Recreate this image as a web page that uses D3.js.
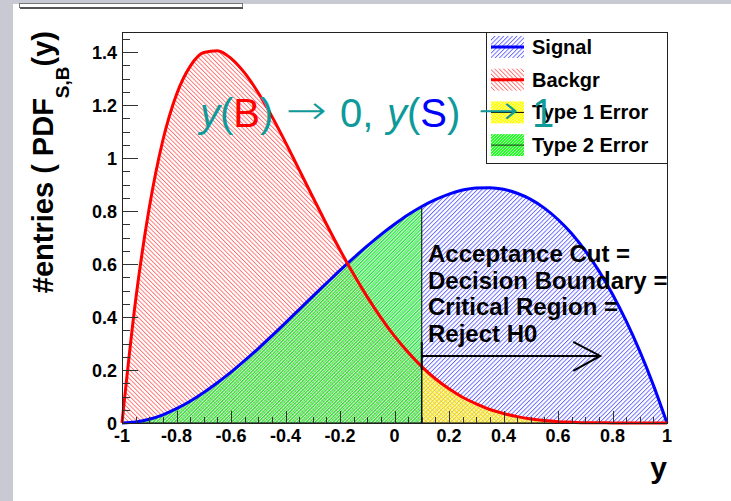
<!DOCTYPE html>
<html>
<head>
<meta charset="utf-8">
<script src="https://cdn.jsdelivr.net/npm/d3@7"></script>
<style>
	body{ margin:0; background:#c9c9d3; }
	svg{ display:block; }
	text{ font-family:"Liberation Sans", Arial, sans-serif; }
</style>
</head>
<body>
<svg width="731" height="501"></svg>
<script>
// classifier output bins (y) and the two PDFs
let yBins = [-1, -0.95, -0.9, -0.85, -0.8, -0.75, -0.7, -0.65, -0.6, -0.55, -0.5,
	-0.45, -0.4, -0.35, -0.3, -0.25, -0.2, -0.15, -0.1, -0.05, 0,
	0.05, 0.1, 0.15, 0.2, 0.25, 0.3, 0.35, 0.4, 0.45, 0.5,
	0.55, 0.6, 0.65, 0.7, 0.75, 0.8, 0.85, 0.9, 0.95, 1];
let signalPdf = [0, 0.004, 0.014, 0.031, 0.054, 0.082, 0.115, 0.152, 0.192, 0.235, 0.281,
	0.329, 0.378, 0.428, 0.478, 0.527, 0.576, 0.623, 0.668, 0.711, 0.750,
	0.786, 0.817, 0.843, 0.864, 0.879, 0.887, 0.888, 0.882, 0.867, 0.844,
	0.811, 0.768, 0.715, 0.650, 0.574, 0.486, 0.385, 0.271, 0.143, 0];
let backgrPdf = [0, 0.463, 0.812, 1.067, 1.240, 1.346, 1.398, 1.405, 1.376, 1.321, 1.246,
	1.157, 1.059, 0.956, 0.853, 0.751, 0.653, 0.561, 0.476, 0.398, 0.328,
	0.267, 0.213, 0.167, 0.129, 0.097, 0.072, 0.051, 0.036, 0.024, 0.015,
	0.009, 0.005, 0.003, 0.001, 0.001, 0, 0, 0, 0, 0];
let cutValue = 0.1;
let xTicks = [-1, -0.8, -0.6, -0.4, -0.2, 0, 0.2, 0.4, 0.6, 0.8, 1];
let yTicks = [0, 0.2, 0.4, 0.6, 0.8, 1, 1.2, 1.4];
let legendNames = ["Signal", "Backgr", "Type 1 Error", "Type 2 Error"];
let noteLines = ["Acceptance Cut =", "Decision Boundary =", "Critical Region =", "Reject H0"];

let frame = {left: 122, right: 667, top: 32, bottom: 423};
let teal = "#0f9a9a";
let tickFormat = d => String(d);  // plain hyphen, like ROOT

(function(){
	let svg = d3.select("svg");

	// pad background, grey border strips
	svg.append("rect")
		.attr("x", 13).attr("y", 4)
		.attr("width", 731 - 13).attr("height", 501 - 4)
		.attr("fill", "#fff");
	svg.append("rect")  // cut off title box
		.attr("x", 19.5).attr("y", 3.5)
		.attr("width", 223).attr("height", 4)
		.attr("fill", "#fff")
		.attr("stroke", "#777");
	svg.append("line")
		.attr("x1", 20).attr("x2", 243)
		.attr("y1", 8).attr("y2", 8)
		.attr("stroke", "#555").attr("stroke-width", 2);

	initPatterns(svg);

	let x = d3.scaleLinear().domain([-1, 1]).range([frame.left, frame.right]);
	let y = d3.scaleLinear().domain([0, 1.4755]).range([frame.bottom, frame.top]);

	let pts = yBins.map((v, i) => ({y: v, s: signalPdf[i], b: backgrPdf[i]}));

	let area = (key) => d3.area()
		.x(d => x(d.y))
		.y0(y(0))
		.y1(d => y(d[key]))
		.curve(d3.curveMonotoneX);
	let line = (key) => d3.line()
		.x(d => x(d.y))
		.y(d => y(d[key]))
		.curve(d3.curveMonotoneX);

	let type2 = pts.filter(d => d.y <= cutValue);  // signal rejected
	let type1 = pts.filter(d => d.y >= cutValue);  // background accepted

	let g = svg.append("g");

	g.append("path").attr("d", area("s")(pts)).attr("fill", "url(#blueHatch)");
	g.append("path").attr("d", area("b")(pts)).attr("fill", "url(#redHatch)");

	// error regions sit over the hatching, which shows through
	g.append("path").attr("d", area("s")(type2))
		.attr("fill", "url(#greenDots)").attr("fill-opacity", 0.68);
	g.append("path").attr("d", area("b")(type1))
		.attr("fill", "url(#yellowDots)").attr("fill-opacity", 0.68);

	g.append("path").attr("d", area("s")(type2))
		.attr("fill", "none").attr("stroke", "#000").attr("stroke-width", 1);
	g.append("path").attr("d", area("b")(type1))
		.attr("fill", "none").attr("stroke", "#000").attr("stroke-width", 1);

	g.append("path").attr("d", line("s")(pts))
		.attr("fill", "none").attr("stroke", "#0000ff").attr("stroke-width", 3);
	g.append("path").attr("d", line("b")(pts))
		.attr("fill", "none").attr("stroke", "#ff0000").attr("stroke-width", 3);

	drawAxes(svg, x, y);
	drawLegend(svg);
	drawNotes(svg, x, y);
}());

function initPatterns(svg){
	let defs = svg.append("defs");

	let hatch = (id, color, angle) => {
		let p = defs.append("pattern")
			.attr("id", id)
			.attr("patternUnits", "userSpaceOnUse")
			.attr("width", 3.1).attr("height", 3.1)
			.attr("patternTransform", `rotate(${angle})`);
		p.append("line")
			.attr("x1", 0.5).attr("x2", 0.5)
			.attr("y1", 0).attr("y2", 3.1)
			.attr("stroke", color)
			.attr("stroke-width", 0.7);
	};
	hatch("redHatch", "#ff4040", -45);
	hatch("blueHatch", "#3636ff", 45);

	let dots = (id, base, light) => {
		let p = defs.append("pattern")
			.attr("id", id)
			.attr("patternUnits", "userSpaceOnUse")
			.attr("width", 3).attr("height", 3);
		p.append("rect").attr("width", 3).attr("height", 3).attr("fill", base);
		[[0, 0], [2, 1], [1, 2]].forEach(c => {
			p.append("rect")
				.attr("x", c[0]).attr("y", c[1])
				.attr("width", 1).attr("height", 1)
				.attr("fill", light);
		});
	};
	dots("greenDots", "#22ff22", "#b8ffb8");
	dots("yellowDots", "#ffff00", "#ffffb0");
}

function drawAxes(svg, x, y){
	let ax = svg.append("g").attr("stroke", "#333").attr("stroke-width", 1);

	// minor ticks every 0.05
	d3.range(-1, 1.0001, 0.05).forEach(v => {
		let major = Math.abs(v * 5 - Math.round(v * 5)) < 1e-6;
		ax.append("line")
			.attr("x1", Math.round(x(v)) + 0.5).attr("x2", Math.round(x(v)) + 0.5)
			.attr("y1", frame.bottom).attr("y2", frame.bottom - (major ? 12 : 6));
	});
	d3.range(0, 1.46, 0.05).forEach(v => {
		let major = Math.abs(v * 5 - Math.round(v * 5)) < 1e-6;
		ax.append("line")
			.attr("x1", frame.left).attr("x2", frame.left + (major ? 16 : 8))
			.attr("y1", Math.round(y(v)) + 0.5).attr("y2", Math.round(y(v)) + 0.5);
	});

	svg.append("rect")
		.attr("x", frame.left + 0.5).attr("y", frame.top + 0.5)
		.attr("width", frame.right - frame.left).attr("height", frame.bottom - frame.top)
		.attr("fill", "none")
		.attr("stroke", "#222");

	svg.append("g")
		.selectAll("text")
		.data(xTicks)
		.enter()
		.append("text")
		.attr("x", d => x(d))
		.attr("y", 442)
		.attr("text-anchor", "middle")
		.attr("font-size", "18px")
		.attr("font-weight", "bold")
		.text(tickFormat);

	svg.append("g")
		.selectAll("text")
		.data(yTicks)
		.enter()
		.append("text")
		.attr("x", 117)
		.attr("y", d => y(d) + 6.5)
		.attr("text-anchor", "end")
		.attr("font-size", "18px")
		.attr("font-weight", "bold")
		.text(tickFormat);

	svg.append("text")
		.attr("x", frame.right)
		.attr("y", 478)
		.attr("text-anchor", "end")
		.attr("font-size", "30px")
		.attr("font-weight", "bold")
		.text("y");

	let title = svg.append("text")
		.attr("transform", "translate(53, 31) rotate(-90)")
		.attr("text-anchor", "end")
		.attr("font-size", "29px")
		.attr("font-weight", "bold");
	title.append("tspan").text("#entries ( PDF");
	title.append("tspan").attr("dy", 16).attr("font-size", "19px").text("S,B");
	title.append("tspan").attr("dy", -16).text("(y)");
}

function drawLegend(svg){
	let lg = svg.append("g");
	lg.append("rect")
		.attr("x", 486.5).attr("y", frame.top + 0.5)
		.attr("width", frame.right - 486).attr("height", 131)
		.attr("fill", "#fff")
		.attr("stroke", "#222");

	let fills = ["url(#blueHatch)", "url(#redHatch)", "url(#yellowDots)", "url(#greenDots)"];
	let strokes = ["#0000ff", "#ff0000", "#000", "#113311"];
	let widths = [3, 3, 1, 1];

	legendNames.forEach((name, i) => {
		let cy = 47 + i * 32.7;
		lg.append("rect")
			.attr("x", 491).attr("y", cy - 11)
			.attr("width", 33).attr("height", 22)
			.attr("fill", fills[i]);
		lg.append("line")
			.attr("x1", 491).attr("x2", 524)
			.attr("y1", cy).attr("y2", cy)
			.attr("stroke", strokes[i])
			.attr("stroke-width", widths[i]);
		lg.append("text")
			.attr("x", 532).attr("y", cy + 7)
			.attr("font-size", "20px")
			.attr("font-weight", "bold")
			.text(name);
	});
}

function drawNotes(svg, x, y){
	let notes = svg.append("g");

	notes.selectAll("text")
		.data(noteLines)
		.enter()
		.append("text")
		.attr("x", 428)
		.attr("y", (d, i) => 262 + i * 26.7)
		.attr("font-size", "24px")
		.attr("font-weight", "bold")
		.text(d => d);

	// arrow pointing into the critical region
	let ay = y(0.253);
	let x0 = x(cutValue), x1 = x(0.755);
	notes.append("line")
		.attr("x1", x0).attr("x2", x0)
		.attr("y1", ay - 14).attr("y2", ay + 14)
		.attr("stroke", "#000").attr("stroke-width", 2);
	notes.append("line")
		.attr("x1", x0).attr("x2", x1)
		.attr("y1", ay).attr("y2", ay)
		.attr("stroke", "#000").attr("stroke-width", 2);
	notes.append("path")
		.attr("d", `M${x1 - 27},${ay - 14}L${x1},${ay}L${x1 - 27},${ay + 15}`)
		.attr("fill", "none")
		.attr("stroke", "#000").attr("stroke-width", 2);

	// y(B) -> 0, y(S) -> 1
	let pieces = [
		{x: 200, parts: [["y", null, true], ["(", null], ["B", "#ff0000"], [")", null]]},
		{x: 286, arrow: true},
		{x: 340, parts: [["0,", null]]},
		{x: 387, parts: [["y", null, true], ["(", null], ["S", "#0000ff"], [")", null]]},
		{x: 478, arrow: true},
		{x: 532, parts: [["1", null]]}
	];
	pieces.forEach(p => {
		let t = svg.append("text")
			.attr("x", p.x)
			.attr("y", 127)
			.attr("font-size", "40px")
			.attr("fill", teal);
		if(p.arrow){
			t.style("font-family", "'DejaVu Sans', sans-serif")
				.attr("y", 124)
				.attr("textLength", 41)
				.attr("lengthAdjust", "spacingAndGlyphs")
				.attr("font-weight", "200")
				.text("\u2192");
			return;
		}
		p.parts.forEach(q => {
			let s = t.append("tspan").text(q[0]);
			if(q[1]) s.attr("fill", q[1]);
			if(q[2]) s.attr("font-style", "italic");
		});
	});
}
</script>
</body>
</html>
